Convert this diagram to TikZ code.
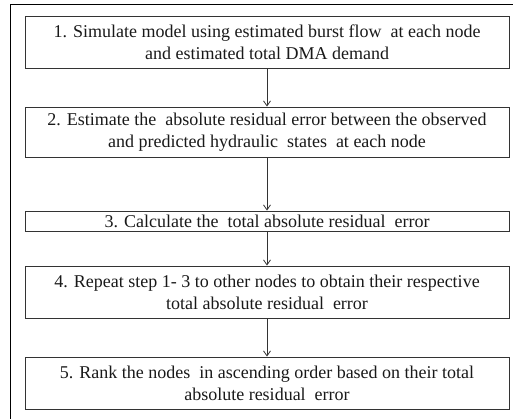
\documentclass[tikz,border=0pt]{standalone}
\usepackage{fontspec}
\setmainfont{Liberation Serif}
\usetikzlibrary{arrows.meta}
\begin{document}
\begin{tikzpicture}[x=1pt,y=-1pt,
  stepbox/.style={draw=black!80,line width=0.9pt,minimum width=484pt,align=center,inner sep=0pt,
    font=\fontsize{18}{22}\selectfont,text=black!90},
  conn/.style={draw=black!80,line width=0.8pt,-{Straight Barb[length=5pt,width=7pt]}}]
\useasboundingbox (0,0) rectangle (513,419);
\begin{scope}
\clip (0,0) rectangle (513,419);
\draw[line width=1.2pt] (10.5,4.5) rectangle (530,440);
\end{scope}
\node[stepbox,minimum height=52pt] (s1) at (267,42) {1. Simulate model using estimated burst flow~ at each node\\and estimated total DMA demand};
\node[stepbox,minimum height=50pt] (s2) at (267,132) {2. Estimate the~ absolute residual error between the observed\\and predicted hydraulic~ states~ at each node};
\node[stepbox,minimum height=20pt] (s3) at (267,221) {3. Calculate the~ total absolute residual~ error};
\node[stepbox,minimum height=52pt] (s4) at (267,292) {4. Repeat step 1- 3 to other nodes to obtain their respective\\total absolute residual~ error};
\node[stepbox,minimum height=52pt] (s5) at (267,383) {5. Rank the nodes~ in ascending order based on their total\\absolute residual~ error};
\draw[conn] (s1) -- (s2);
\draw[conn] (s2) -- (s3);
\draw[conn] (s3) -- (s4);
\draw[conn] (s4) -- (s5);
\end{tikzpicture}
\end{document}
